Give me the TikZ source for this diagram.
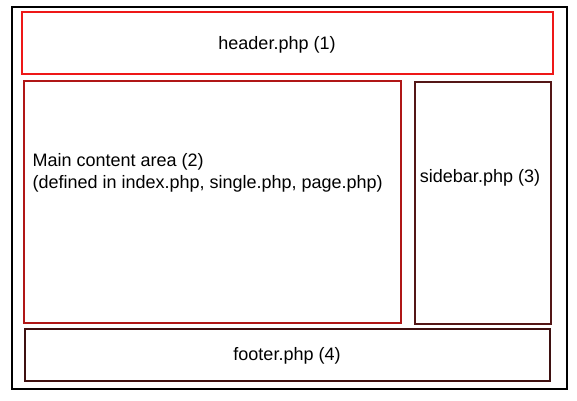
\documentclass[tikz,border=0pt]{standalone}
\usepackage{fontspec}
\setmainfont{Liberation Sans}
\usepackage{xcolor}

\definecolor{headred}{RGB}{238,24,24}
\definecolor{mainred}{RGB}{176,22,22}
\definecolor{sidebrown}{RGB}{84,22,22}
\definecolor{footbrown}{RGB}{62,16,16}

\begin{document}
\begin{tikzpicture}[x=1pt,y=-1pt,font=\fontsize{18}{22}\selectfont]
        \useasboundingbox (0,0) rectangle (577,400);
        % page frame
        \draw[line width=1.5pt] (12,7) rectangle (567,389);
        % template parts
        \draw[headred,line width=1.5pt] (22,12) rectangle (553,74);
        \draw[mainred,line width=1.5pt] (24,81) rectangle (401,323);
        \draw[sidebrown,line width=1.5pt] (415,82) rectangle (551,324);
        \draw[footbrown,line width=1.5pt] (25,329) rectangle (550,381);
        \node (header) at (277,45) {header.php (1)};
        \node[anchor=west,align=left] (main) at (29,173) {Main content area (2)\\(defined in index.php, single.php, page.php)};
        \node (sidebar) at (480,178) {sidebar.php (3)};
        \node (footer) at (287,356) {footer.php (4)};
    \end{tikzpicture}
\end{document}
